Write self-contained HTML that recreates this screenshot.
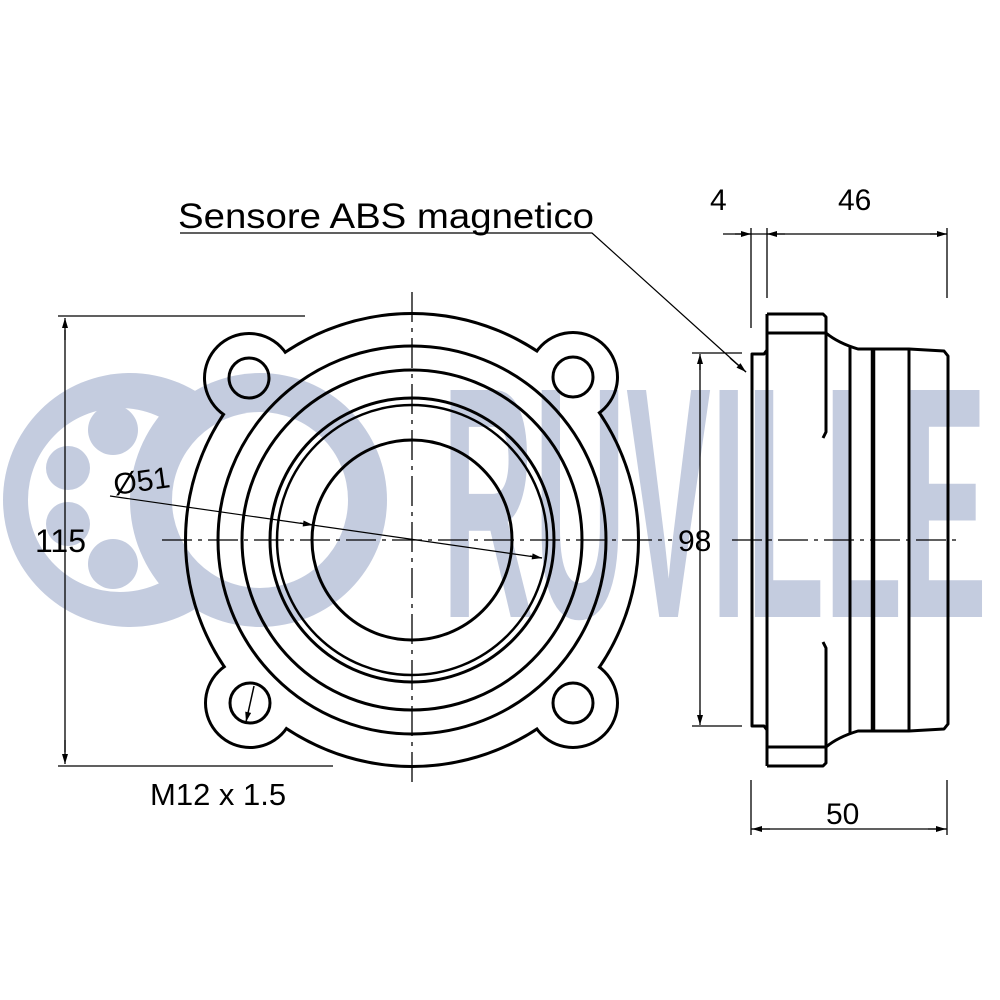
<!DOCTYPE html>
<html><head><meta charset="utf-8"><style>html,body{margin:0;padding:0;background:#fff}svg{display:block}</style></head>
<body>
<svg width="1000" height="1000" viewBox="0 0 1000 1000" xmlns="http://www.w3.org/2000/svg" font-family="Liberation Sans, sans-serif">
<defs>
<mask id="wm">
<rect width="1000" height="1000" fill="#fff"/>
<circle cx="260" cy="500" r="88" fill="#000"/>
</mask>
<mask id="cres">
<rect width="1000" height="1000" fill="#fff"/>
<circle cx="265" cy="500" r="135" fill="#000"/>
</mask>
<mask id="fl">
<rect width="1000" height="1000" fill="#000"/>
<g stroke="#fff" stroke-width="6" fill="#fff">
<circle cx="412" cy="540" r="225"/>
<circle cx="249" cy="378" r="43"/><circle cx="573" cy="377" r="43"/>
<circle cx="250" cy="703" r="43"/><circle cx="573" cy="703" r="43"/>
</g>
<g fill="#000">
<circle cx="412" cy="540" r="225"/>
<circle cx="249" cy="378" r="43"/><circle cx="573" cy="377" r="43"/>
<circle cx="250" cy="703" r="43"/><circle cx="573" cy="703" r="43"/>
</g>
</mask>
<marker id="a" viewBox="0 0 10 6" refX="10" refY="3" markerWidth="12" markerHeight="6" markerUnits="userSpaceOnUse" orient="auto-start-reverse"><path d="M0,0 L10,3 L0,6 z" fill="#000"/></marker>
</defs>

<!-- watermark -->
<g fill="#c4ccdf">
<g mask="url(#wm)">
<circle cx="130" cy="500" r="127"/>
<circle cx="260" cy="500" r="127"/>
</g>
<circle cx="120" cy="500" r="92" fill="#fff" mask="url(#cres)"/>
<circle cx="113" cy="430" r="25"/>
<circle cx="68" cy="468" r="22"/>
<circle cx="68" cy="524" r="22"/>
<circle cx="113" cy="564" r="25"/>
<text x="442" y="617" font-size="330" font-weight="bold" textLength="545" lengthAdjust="spacingAndGlyphs">RUVILLE</text>
</g>

<!-- flange outline -->
<rect width="1000" height="1000" fill="#000" mask="url(#fl)"/>

<g fill="none" stroke="#000" stroke-width="3">
<circle cx="249" cy="378" r="20"/><circle cx="573" cy="377" r="20"/>
<circle cx="250" cy="703" r="20"/><circle cx="573" cy="703" r="20"/>
<circle cx="412" cy="540" r="194"/>
<circle cx="412" cy="540" r="170"/>
<circle cx="412" cy="540" r="142"/>
<circle cx="412" cy="540" r="135" stroke-width="2.5"/>
<circle cx="412" cy="540" r="100"/>
</g>
<path d="M254,686 L246,722" stroke="#000" stroke-width="1.5" marker-end="url(#a)" fill="none"/>

<!-- center lines -->
<g stroke="#000" stroke-width="1.3" fill="none" stroke-dasharray="30,6,4,6">
<path d="M162,540 H672"/>
<path d="M412,292 V785"/>
<path d="M732,540 H960"/>
</g>

<!-- Ø51 leader -->
<path d="M110,496 L542,558" stroke="#000" stroke-width="1.2" fill="none"/>
<path d="M300,523 L313,525" stroke="#000" stroke-width="1.2" marker-end="url(#a)"/>
<path d="M530,556 L542,558" stroke="#000" stroke-width="1.2" marker-end="url(#a)"/>
<text x="115" y="495" font-size="30" transform="rotate(-8 115 495)">Ø51</text>

<!-- 115 dimension -->
<g stroke="#000" stroke-width="1.3" fill="none">
<path d="M58,316 H305"/>
<path d="M58,766 H333"/>
<path d="M65,330 V752" />
<path d="M65,340 V318" marker-end="url(#a)"/>
<path d="M65,740 V764" marker-end="url(#a)"/>
</g>
<text x="35" y="552" font-size="32">115</text>
<text x="150" y="805" font-size="31">M12 x 1.5</text>

<!-- Sensore label -->
<text x="178" y="228" font-size="35" textLength="416" lengthAdjust="spacingAndGlyphs">Sensore ABS magnetico</text>
<path d="M180,233 H592 L746,372" stroke="#000" stroke-width="1.2" fill="none"/>
<path d="M730,358 L746,372" stroke="#000" stroke-width="1.2" marker-end="url(#a)"/>

<!-- right view -->
<g stroke="#000" stroke-width="1.3" fill="none">
<path d="M751,228 V328"/>
<path d="M767,228 V298"/>
<path d="M947,228 V298"/>
<path d="M723,234 H947"/>
<path d="M735,234 H751" marker-end="url(#a)"/>
<path d="M785,234 H767" marker-end="url(#a)"/>
<path d="M930,234 H947" marker-end="url(#a)"/>
<path d="M692,353 H742"/>
<path d="M692,726 H742"/>
<path d="M700,360 V720"/>
<path d="M700,370 V354" marker-end="url(#a)"/>
<path d="M700,710 V725" marker-end="url(#a)"/>
<path d="M751,780 V835"/>
<path d="M947,780 V835"/>
<path d="M751,829 H947"/>
<path d="M770,829 H752" marker-end="url(#a)"/>
<path d="M928,829 H946" marker-end="url(#a)"/>
</g>
<text x="710" y="210" font-size="30">4</text>
<text x="838" y="210" font-size="30">46</text>
<text x="678" y="551" font-size="30">98</text>
<text x="826" y="824" font-size="30">50</text>

<g stroke="#000" stroke-width="3" fill="none" stroke-linejoin="round">
<path d="M767,314 H823 L826,317 V333 H767"/>
<path d="M767,766 H823 L826,763 V747 H767"/>
<path d="M767,314 V766"/>
<path d="M767,350 L764,354 H752 V726 H764 L767,730"/>
<path d="M826,333 V432 L823,438"/>
<path d="M826,747 V648 L823,642"/>
<path d="M826,333 Q838,343 858,349 H909 L944,351 L948,356 V724 L944,729 L909,731 H858 Q838,737 826,747"/>
<path d="M850,346 V734"/>
<path d="M909,349 V731"/>
<path d="M873,349 V731" stroke-width="4.5"/>
</g>
</svg>
</body></html>
